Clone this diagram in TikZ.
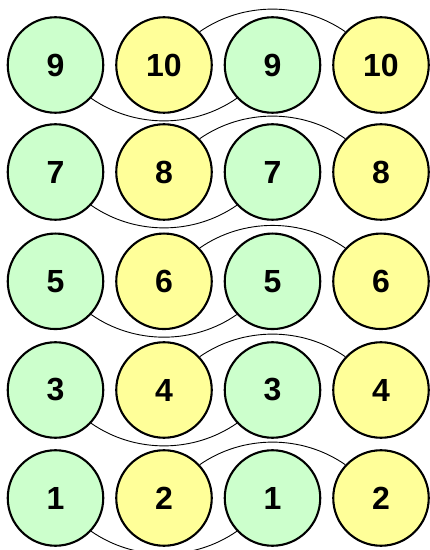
\documentclass[tikz,border=0pt]{standalone}
\usepackage{fontspec}
\setmainfont{Liberation Sans}
\definecolor{cgreen}{HTML}{CCFFCC}
\definecolor{cyellow}{HTML}{FFFF99}
\begin{document}
\begin{tikzpicture}[x=1pt,y=1pt,
  ball/.style={circle, draw=black, line width=2.1pt, minimum size=95.5pt, inner sep=0pt,
    font=\bfseries\fontsize{32}{32}\selectfont},
  gball/.style={ball, fill=cgreen},
  yball/.style={ball, fill=cyellow},
  link/.style={line width=0.9pt}]
\useasboundingbox (0,0) rectangle (430,550);
\clip (0,0) rectangle (430,550);
\foreach \r/\p/\q/\y/\t in {1/9/10/485/0, 2/7/8/378/-4.5, 3/5/6/268.7/-3.2, 4/3/4/160/-2, 5/1/2/52/0} {
  \node[gball] (a\r) at (55.5,\y) {\raisebox{\t pt}{\p}};
  \node[yball] (b\r) at (164,\y) {\raisebox{\t pt}{\q}};
  \node[gball] (c\r) at (272.5,\y) {\raisebox{\t pt}{\p}};
  \node[yball] (d\r) at (381,\y) {\raisebox{\t pt}{\q}};
  \draw[link] (a\r.-43) to[out=-34.8,in=-145.2,looseness=0.93] (c\r.-137);
  \draw[link] (b\r.43) to[out=34.8,in=145.2,looseness=0.93] (d\r.137);
}
\end{tikzpicture}
\end{document}
